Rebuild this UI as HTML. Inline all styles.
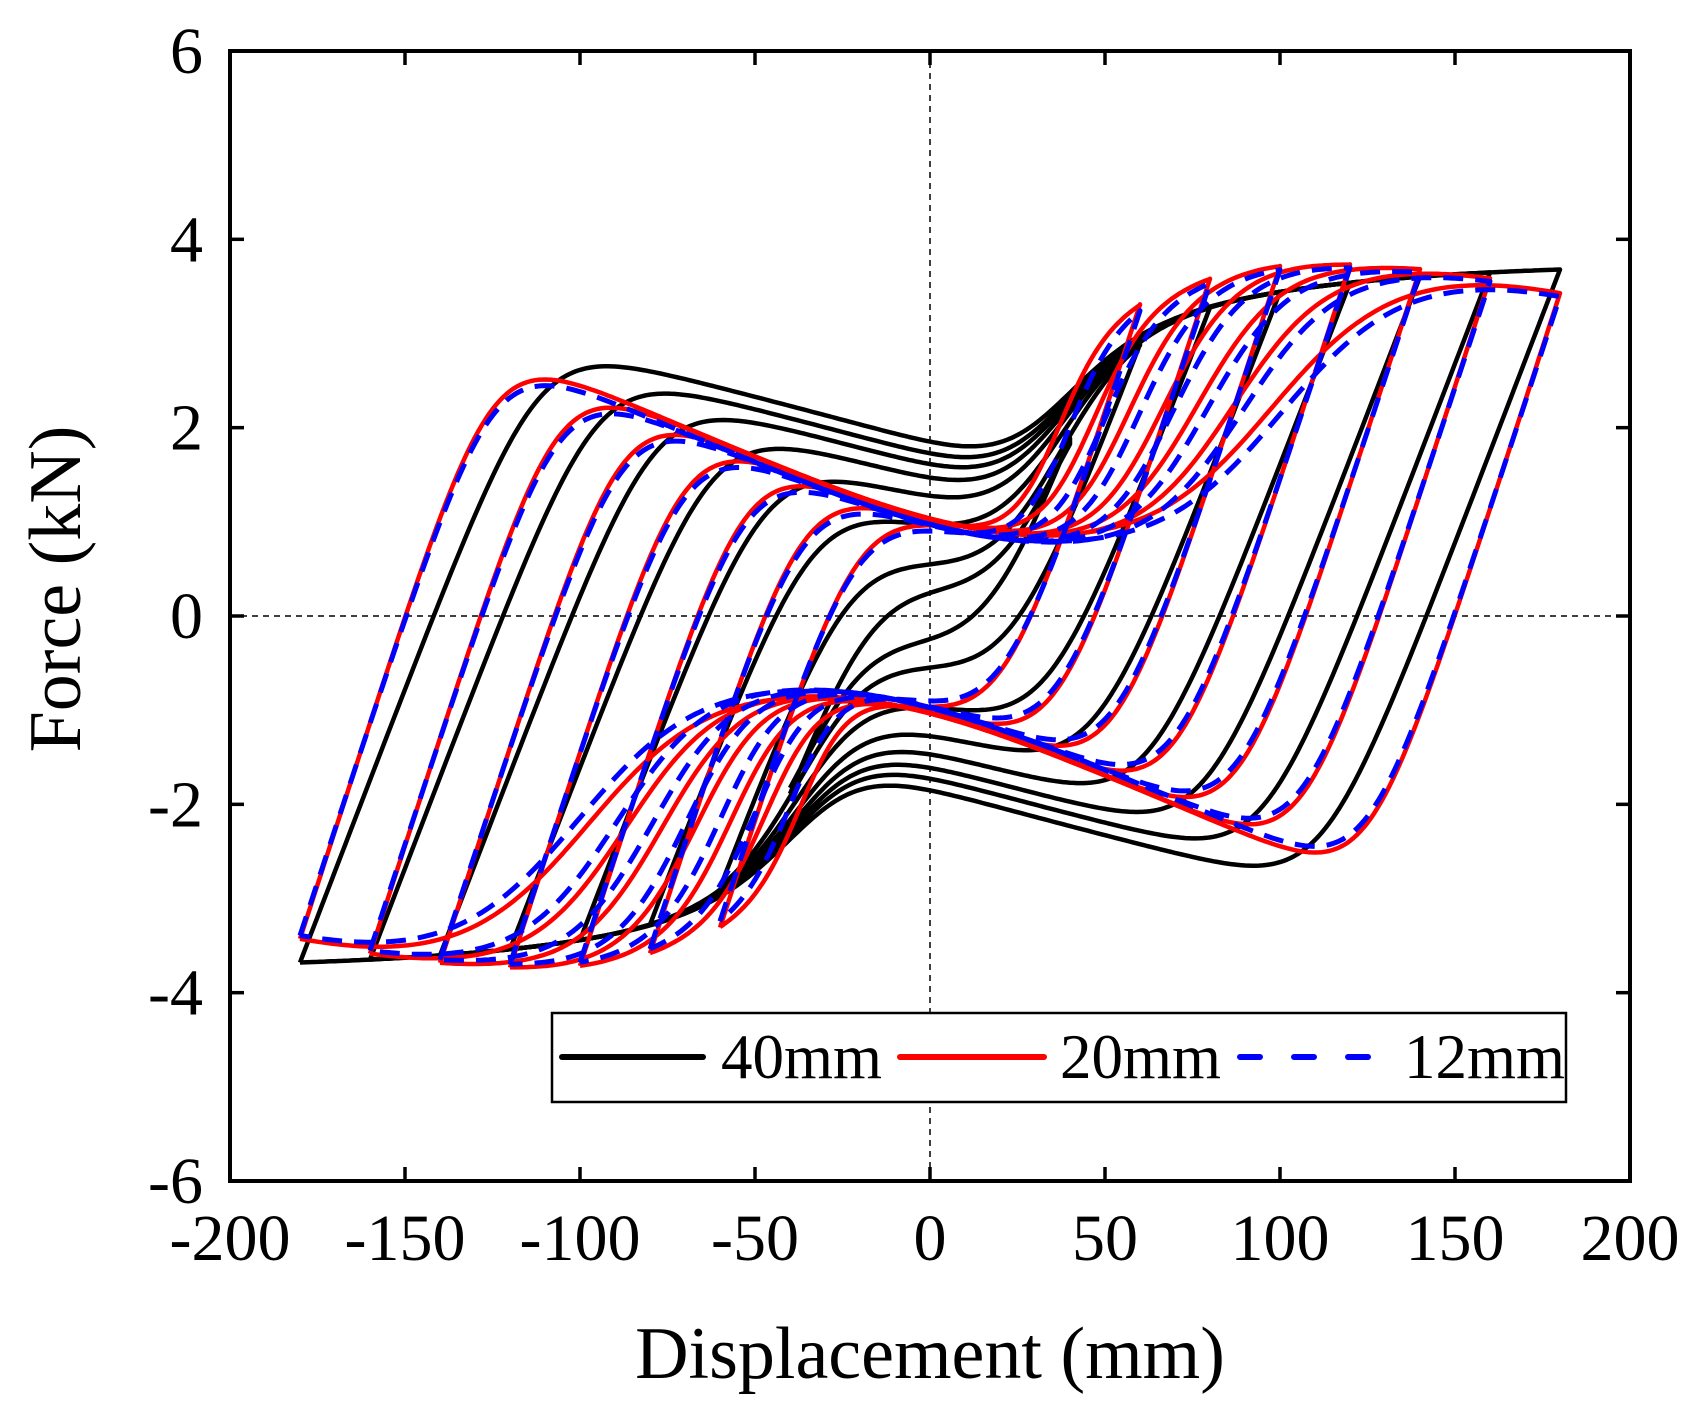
<!DOCTYPE html>
<html><head><meta charset="utf-8"><style>
html,body{margin:0;padding:0;background:#fff;}
svg{display:block;}
text{font-family:"Liberation Serif",serif;fill:#000;}
</style></head><body>
<svg id="s" width="1695" height="1406" viewBox="0 0 1695 1406" xmlns="http://www.w3.org/2000/svg">
<rect width="1695" height="1406" fill="#fff"/>
<line x1="930" y1="51" x2="930" y2="1181" stroke="#000" stroke-width="1.5" stroke-dasharray="6 5"/>
<line x1="230" y1="616" x2="1630" y2="616" stroke="#000" stroke-width="1.5" stroke-dasharray="6 5"/>
<g id="curves"></g>
<rect x="552" y="1013" width="1014" height="89" fill="#fff" stroke="#000" stroke-width="2.5"/>
<line x1="562" y1="1057" x2="703" y2="1057" stroke="#000" stroke-width="6" stroke-linecap="round"/>
<text x="721" y="1078" font-size="63">40mm</text>
<line x1="900" y1="1057" x2="1044" y2="1057" stroke="#f00" stroke-width="6" stroke-linecap="round"/>
<text x="1060" y="1078" font-size="63">20mm</text>
<line x1="1240" y1="1057" x2="1380" y2="1057" stroke="#00f" stroke-width="6" stroke-linecap="round" stroke-dasharray="20 34"/>
<text x="1404" y="1078" font-size="63">12mm</text>
<rect x="230" y="51" width="1400" height="1130" fill="none" stroke="#000" stroke-width="4"/>
<g id="ticks" stroke="#000" stroke-width="3.5"></g>
<g id="labels" font-size="66"></g>
<text x="930" y="1378" font-size="74" text-anchor="middle">Displacement (mm)</text>
<text transform="translate(80,589) rotate(-90)" font-size="74" text-anchor="middle">Force (kN)</text>
</svg>
<script>
var NS="http://www.w3.org/2000/svg";
function X(d){return 930+3.5*d;}
function Y(f){return 616-94.17*f;}
function sig(x){return 1/(1+Math.exp(-x));}
function smin(a,b,k){var m=Math.min(a,b);return m-k*Math.log(Math.exp(-(a-m)/k)+Math.exp(-(b-m)/k));}
var ticks=document.getElementById('ticks'),labels=document.getElementById('labels');
function el(tag,attrs,parent,txt){var e=document.createElementNS(NS,tag);for(var k in attrs)e.setAttribute(k,attrs[k]);if(txt!==undefined)e.textContent=txt;parent.appendChild(e);return e;}
for(var v=-200;v<=200;v+=50){var x=X(v);
 el('line',{x1:x,y1:1181,x2:x,y2:1167},ticks);el('line',{x1:x,y1:51,x2:x,y2:65},ticks);
 el('text',{x:x,y:1260,'text-anchor':'middle'},labels,String(v));}
for(var v=-6;v<=6;v+=2){var y=Y(v);
 el('line',{x1:230,y1:y,x2:244,y2:y},ticks);el('line',{x1:1630,y1:y,x2:1616,y2:y},ticks);
 el('text',{x:203,y:y+22,'text-anchor':'end'},labels,String(v));}
var g=document.getElementById('curves');
function loopPath(up,A){var pts=[];
 for(var d=-A;d<=A;d+=1)pts.push([d,up(d)]);
 for(var d=A;d>=-A;d-=1)pts.push([d,-up(-d)]);
 return 'M'+pts.map(function(p){return X(p[0]).toFixed(1)+','+Y(p[1]).toFixed(1);}).join('L');}
// black
var cB={40:0.3,60:0.55,80:0.95,100:1.25,120:1.45,140:1.6,160:1.72,180:1.85};
for(var A=40;A<=180;A+=20){(function(A){
 var c=cB[A];
 function S(d){var L=c-0.0096*d,T=3.75-0.9*Math.exp(-(d-40)/55);return L+(T-L)*sig((d-33)/11);}
 var F=S(A);
 function up(d){return smin(-F+0.097*(d+A),S(d),0.9);}
 el('path',{d:loopPath(up,A),fill:'none',stroke:'#000','stroke-width':4.5,'stroke-linejoin':'round'},g);
})(A);}
var rr={60:[35,7],80:[45,8],100:[55,9],120:[65,10],140:[75,12],160:[86,14],180:[98,18]};
function redSet(color,dash,vmin,shift,ppk,k){
 for(var A=60;A<=180;A+=20){(function(A){
  var r=rr[A][0]+shift,w=rr[A][1];
  function env(d){return vmin+0.32*Math.log(1+Math.exp(-(d-10)/20));}
  function P(d){var q=d-110;return ppk-(q<0?0.00015:0.00006)*q*q;}
  function R(d){var e=env(d);return e+(P(d)-e)*sig((d-r)/w);}
  var F=R(A);
  function up(d){return smin(-F+k*(d+A),R(d),1.0);}
  var at={d:loopPath(up,A),fill:'none',stroke:color,'stroke-width':dash?5:4.5,'stroke-linejoin':'round'};
  if(dash)at['stroke-dasharray']='20 12';
  el('path',at,g);
 })(A);}
}
redSet('#f00',false,0.72,0,3.75,0.115);
redSet('#00f',true,0.66,3,3.72,0.113);
</script>
</body></html>
